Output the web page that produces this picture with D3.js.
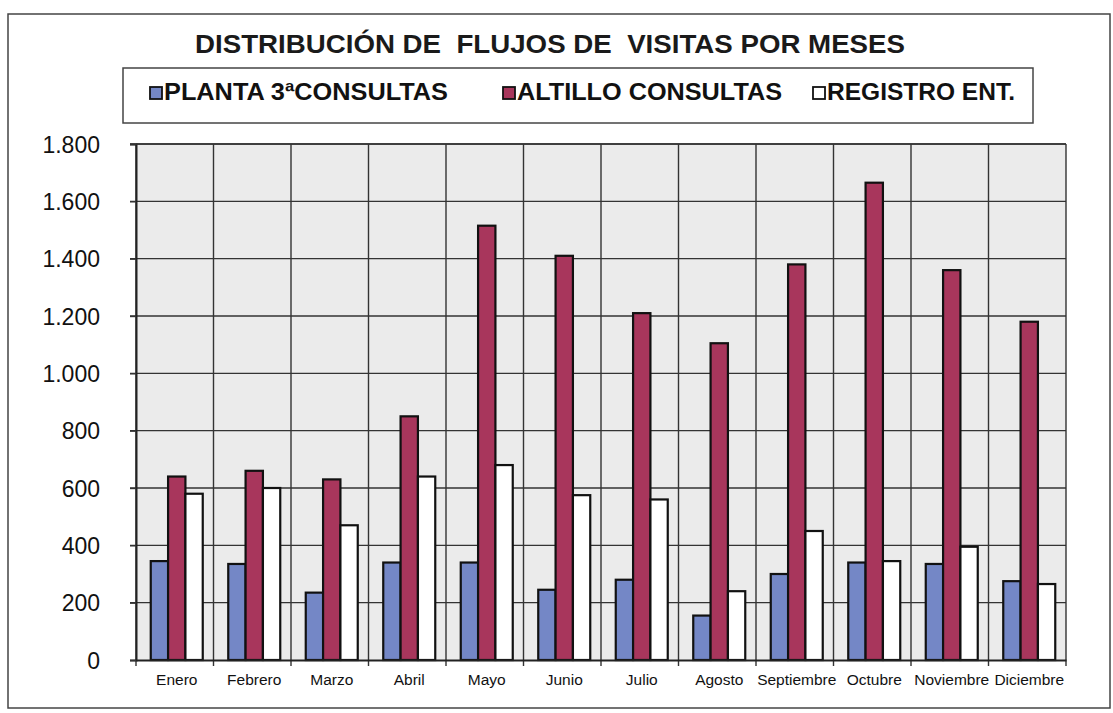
<!DOCTYPE html>
<html><head><meta charset="utf-8">
<script src="https://cdn.jsdelivr.net/npm/d3@7"></script>
<style>html,body{margin:0;padding:0;background:#fff;}svg{display:block;}</style>
</head><body>
<svg id="chart" width="1113" height="713"></svg>
<script>
const months = ["Enero","Febrero","Marzo","Abril","Mayo","Junio","Julio","Agosto","Septiembre","Octubre","Noviembre","Diciembre"];
const planta3 = [345, 335, 235, 340, 340, 245, 280, 155, 300, 340, 335, 275];
const altillo = [640, 660, 630, 850, 1515, 1410, 1210, 1105, 1380, 1665, 1360, 1180];
const registro = [580, 600, 470, 640, 680, 575, 560, 240, 450, 345, 395, 265];
const seriesNames = ["PLANTA 3ªCONSULTAS", "ALTILLO CONSULTAS", "REGISTRO ENT."];
const yTicks = [0, 200, 400, 600, 800, 1000, 1200, 1400, 1600, 1800];
const colors = ["#7487c6", "#a8365c", "#ffffff"];

const svg = d3.select("#chart");
const font = "'Liberation Sans', Arial, sans-serif";
const m = {left: 136, right: 1066, top: 144, bottom: 660};

// outer frame
svg.append("rect").attr("x", 8).attr("y", 14).attr("width", 1102).attr("height", 694)
  .attr("fill", "#fff").attr("stroke", "#444").attr("stroke-width", 1.5);

// title
svg.append("text").attr("x", 195).attr("y", 53)
  .attr("font-family", font).attr("font-weight", "bold").attr("font-size", 26)
  .attr("fill", "#1a1a1a").attr("xml:space", "preserve")
  .attr("textLength", 710).attr("lengthAdjust", "spacingAndGlyphs")
  .text("DISTRIBUCIÓN DE  FLUJOS DE  VISITAS POR MESES");

// legend box
svg.append("rect").attr("x", 123).attr("y", 68).attr("width", 910).attr("height", 55)
  .attr("fill", "#fff").attr("stroke", "#444").attr("stroke-width", 1.5);
const legendX = [150, 503, 813];
const legendLen = [284, 265, 188];
seriesNames.forEach((n, i) => {
  const g = svg.append("g").attr("transform", `translate(${legendX[i]},0)`);
  g.append("rect").attr("x", 0).attr("y", 87).attr("width", 12).attr("height", 12)
    .attr("fill", colors[i]).attr("stroke", "#111").attr("stroke-width", 1.8);
  g.append("text").attr("x", 14).attr("y", 100).attr("font-family", font)
    .attr("font-weight", "bold").attr("font-size", 24).attr("fill", "#111")
    .attr("textLength", legendLen[i]).attr("lengthAdjust", "spacingAndGlyphs").text(n);
});

// scales
const x = d3.scaleBand().domain(months).range([m.left, m.right]).padding(0);
const y = d3.scaleLinear().domain([0, 1800]).range([m.bottom, m.top]);
const xs = d3.scaleBand().domain([0, 1, 2]).range([0, 52]);

// plot background
svg.append("rect").attr("x", m.left).attr("y", m.top).attr("width", m.right - m.left)
  .attr("height", m.bottom - m.top).attr("fill", "#ebebeb");

// grid horizontal
svg.append("g").selectAll("line").data(yTicks.slice(1)).join("line")
  .attr("x1", m.left - 6).attr("x2", m.right).attr("y1", d => y(d)).attr("y2", d => y(d))
  .attr("stroke", "#333").attr("stroke-width", 1.4);
// grid vertical
const bounds = months.map(d => x(d)).concat([m.right]);
svg.append("g").selectAll("line").data(bounds).join("line")
  .attr("x1", d => d).attr("x2", d => d).attr("y1", m.top).attr("y2", m.bottom + 6)
  .attr("stroke", "#333").attr("stroke-width", 1.4);

// bars
const data = [planta3, altillo, registro];
const offset = (x.bandwidth() - 52) / 2 + 2;
data.forEach((arr, si) => {
  svg.append("g").selectAll("rect").data(arr).join("rect")
    .attr("x", (d, i) => x(months[i]) + offset + xs(si))
    .attr("y", d => y(d))
    .attr("width", xs.bandwidth())
    .attr("height", d => y(0) - y(d))
    .attr("fill", colors[si]).attr("stroke", "#111").attr("stroke-width", 2.2);
});

// y axis
const yAxis = d3.axisLeft(y).tickValues(yTicks).tickSize(6)
  .tickFormat(d => d3.format(",")(d).replace(/,/g, "."));
const ya = svg.append("g").attr("transform", `translate(${m.left},0)`).call(yAxis);
ya.select(".domain").attr("stroke", "#222").attr("stroke-width", 2);
ya.selectAll(".tick line").attr("stroke", "#333").attr("stroke-width", 1.4);
ya.selectAll("text").attr("font-family", font).attr("font-size", 23).attr("fill", "#111")
  .attr("x", -36).attr("dy", "0.36em");

// x axis
const xAxis = d3.axisBottom(x).tickSize(0);
const xa = svg.append("g").attr("transform", `translate(0,${m.bottom})`).call(xAxis);
xa.select(".domain").attr("stroke", "#222").attr("stroke-width", 2);
xa.selectAll("text").attr("font-family", font).attr("font-size", 15.5).attr("fill", "#111")
  .attr("y", 25).attr("dy", 0).attr("transform", "translate(2,0)");

// plot top border
svg.append("line").attr("x1", m.left).attr("x2", m.right).attr("y1", m.top).attr("y2", m.top)
  .attr("stroke", "#333").attr("stroke-width", 1.6);
</script>
</body></html>
